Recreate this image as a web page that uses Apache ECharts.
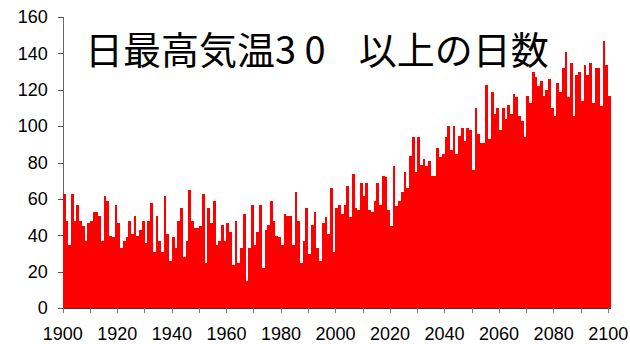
<!DOCTYPE html>
<html>
<head>
<meta charset="utf-8">
<script src="https://cdn.jsdelivr.net/npm/echarts@6/dist/echarts.min.js"></script>
<style>
  html, body { margin: 0; padding: 0; background: #fff; }
  #chart { width: 630px; height: 344px; }
  /* solid, seamless columns: snap shape edges to whole pixels */
  #chart svg path { shape-rendering: crispEdges; }
</style>
</head>
<body>
<div id="chart"></div>
<script>
// Annual count of days with daily maximum temperature of 30 or more, 1900–2100
const titleText = '日最高気温3\u00A00\u00A0\u00A0\u00A0\u2009以上の日数';

const years = [];
for (let y = 1900; y <= 2100; y++) years.push(y);

const days = [
  63, 48, 35, 63, 48, 57, 48, 45, 37, 47,
  48, 53, 53, 51, 37, 62, 59, 40, 39, 57,
  47, 33, 37, 39, 48, 41, 51, 40, 43, 48,
  36, 48, 58, 31, 51, 37, 31, 62, 41, 26,
  39, 33, 48, 55, 28, 37, 65, 48, 44, 44,
  45, 63, 25, 55, 47, 59, 35, 37, 46, 37,
  47, 42, 24, 48, 25, 33, 52, 15, 33, 57,
  35, 42, 57, 22, 43, 46, 59, 48, 40, 39,
  35, 52, 51, 51, 35, 64, 48, 25, 37, 55,
  30, 46, 53, 33, 26, 47, 50, 41, 66, 31,
  55, 57, 52, 57, 67, 50, 74, 55, 54, 69,
  62, 69, 54, 53, 59, 69, 57, 73, 72, 54,
  45, 78, 56, 59, 64, 75, 66, 84, 94, 75,
  94, 79, 82, 78, 81, 73, 73, 88, 83, 85,
  94, 100, 87, 100, 85, 95, 99, 92, 99, 98,
  76, 110, 96, 91, 91, 123, 93, 119, 107, 110,
  98, 110, 104, 112, 107, 118, 116, 106, 103, 94,
  117, 113, 130, 127, 122, 125, 117, 120, 126, 110,
  106, 124, 119, 132, 141, 116, 135, 106, 128, 130,
  114, 134, 128, 135, 113, 132, 132, 111, 147, 134,
  117
];

const xTickValues = [1900, 1910, 1920, 1930, 1940, 1950, 1960, 1970, 1980, 1990, 2000,
                     2010, 2020, 2030, 2040, 2050, 2060, 2070, 2080, 2090, 2100];
const xLabelValues = [1900, 1920, 1940, 1960, 1980, 2000, 2020, 2040, 2060, 2080, 2100];

// each year's bar spans [year, year + 1]
const barData = years.map((y, i) => [y + 0.5, days[i]]);

const labelFont = {
  fontFamily: 'Liberation Sans, Arial, sans-serif',
  fontSize: 18,
  color: '#000'
};

const chart = echarts.init(document.getElementById('chart'), null, { renderer: 'svg' });
chart.setOption({
  animation: false,
  backgroundColor: '#fff',
  title: {
    text: titleText,
    left: 85,
    top: 28,
    padding: 0,
    textStyle: {
      fontFamily: 'Noto Sans CJK JP',
      fontSize: 38,
      fontWeight: 'normal',
      color: '#000'
    }
  },
  grid: {
    left: 62.8,
    right: 19.1,
    top: 17.3,
    bottom: 35.7,
    outerBoundsMode: 'none'
  },
  xAxis: {
    type: 'value',
    min: 1900,
    max: 2101,
    splitLine: { show: false },
    axisLine: { show: true, lineStyle: { color: '#333', width: 1 } },
    axisTick: {
      show: true,
      length: 5,
      customValues: xTickValues,
      lineStyle: { color: '#777', width: 1.3 }
    },
    axisLabel: Object.assign({
      margin: 19.5,
      lineHeight: 12,
      customValues: xLabelValues,
      formatter: (v) => String(v)
    }, labelFont)
  },
  yAxis: {
    type: 'value',
    min: 0,
    max: 160,
    interval: 20,
    splitLine: { show: false },
    axisLine: { show: true, lineStyle: { color: '#666', width: 1.3 } },
    axisTick: { show: true, length: 5, lineStyle: { color: '#555', width: 1 } },
    axisLabel: Object.assign({ margin: 15 }, labelFont)
  },
  series: [{
    type: 'bar',
    data: barData,
    barWidth: '100%',
    itemStyle: { color: '#ff0000' },
    emphasis: { disabled: true }
  }]
});
</script>
</body>
</html>
